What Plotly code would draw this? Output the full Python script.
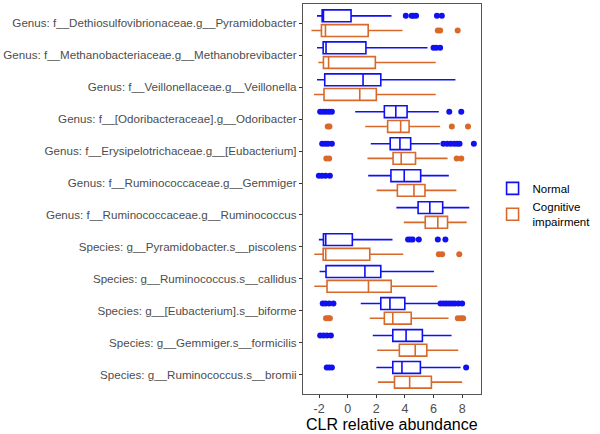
import plotly.graph_objects as go

# categories, top to bottom
taxa = [
    'Genus: f__Dethiosulfovibrionaceae.g__Pyramidobacter',
    'Genus: f__Methanobacteriaceae.g__Methanobrevibacter',
    'Genus: f__Veillonellaceae.g__Veillonella',
    'Genus: f__[Odoribacteraceae].g__Odoribacter',
    'Genus: f__Erysipelotrichaceae.g__[Eubacterium]',
    'Genus: f__Ruminococcaceae.g__Gemmiger',
    'Genus: f__Ruminococcaceae.g__Ruminococcus',
    'Species: g__Pyramidobacter.s__piscolens',
    'Species: g__Ruminococcus.s__callidus',
    'Species: g__[Eubacterium].s__biforme',
    'Species: g__Gemmiger.s__formicilis',
    'Species: g__Ruminococcus.s__bromii',
]

x_ticks = [-2, 0, 2, 4, 6, 8]
x_tick_text = ['-2', '0', '2', '4', '6', '8']

# Normal group box stats
normal_lo = [-2.15, -2.15, -2.15, 0.52, 1.61, 1.43, 3.40, -2.02, -1.97, 0.91, 1.75, 2.00]
normal_q1 = [-1.79, -1.72, -1.61, 2.56, 2.97, 3.02, 4.92, -1.70, -1.52, 2.31, 3.15, 3.15]
normal_med = [-1.70, -1.52, 1.07, 3.36, 3.65, 3.95, 5.74, -1.54, 1.20, 2.95, 4.08, 3.79]
normal_q3 = [0.23, 1.27, 2.31, 4.15, 4.40, 5.10, 6.64, 0.32, 2.31, 3.99, 5.22, 5.08]
normal_hi = [3.06, 5.58, 7.53, 6.37, 6.44, 7.07, 8.50, 3.13, 6.03, 6.42, 7.26, 7.89]
normal_out = [
    [4.06, 4.47, 4.60, 4.78, 6.24, 6.58],
    [6.00, 6.19, 6.46],
    [],
    [-1.93, -1.72, -1.52, -1.31, -1.11, 7.10, 7.94],
    [-1.79, -1.58, -1.38, -1.11, 6.69, 6.95, 7.20, 7.45, 7.65, 7.82, 8.82],
    [-2.02, -1.80, -1.55, -1.25],
    [],
    [4.22, 4.38, 4.54, 4.97, 6.30, 6.83],
    [],
    [-1.75, -1.55, -1.30, -1.00, 6.49, 6.70, 6.90, 7.10, 7.30, 7.50, 7.75, 8.00],
    [-1.93, -1.70, -1.45, -1.18],
    [-1.47, -1.30, -1.11, 8.28],
]

# Cognitive impairment group box stats
ci_lo = [-2.54, -2.06, -2.36, 1.22, 1.38, 2.02, 3.92, -2.34, -2.34, 1.54, 2.06, 2.11]
ci_q1 = [-1.84, -1.70, -1.66, 2.79, 3.17, 3.47, 5.42, -1.72, -1.45, 2.56, 3.61, 3.27]
ci_med = [-1.56, -1.34, 0.84, 3.70, 3.74, 4.63, 6.30, -1.54, 1.45, 3.15, 4.72, 4.33]
ci_q3 = [1.43, 1.93, 2.00, 4.29, 4.74, 5.40, 6.98, 1.54, 3.04, 4.44, 5.53, 5.85]
ci_hi = [3.83, 6.15, 6.15, 6.46, 6.98, 7.60, 8.32, 3.88, 6.26, 7.05, 7.73, 8.00]
ci_out = [
    [6.30, 6.46, 7.69],
    [],
    [],
    [-1.40, -1.28, 7.28, 8.41],
    [-1.50, -1.30, 7.62, 7.94],
    [],
    [],
    [6.37, 6.60, 7.80],
    [],
    [-1.52, -1.38, -1.25, 7.70, 7.90, 8.07],
    [],
    [],
]

blue = '#1010F0'
orange = '#D8692A'

pos = list(range(1, len(taxa) + 1))
shift = 0.23
pos_n = [p - shift for p in pos]
pos_c = [p + shift for p in pos]

fig = go.Figure()

groups = [
    ('Normal', pos_n, normal_lo, normal_q1, normal_med, normal_q3, normal_hi, normal_out, blue),
    ('Cognitive<br>impairment', pos_c, ci_lo, ci_q1, ci_med, ci_q3, ci_hi, ci_out, orange),
]

for name, yy, lo, q1, med, q3, hi, outs, col in groups:
    fig.add_trace(go.Box(
        name=name, orientation='h', y=yy,
        lowerfence=lo, q1=q1, median=med, q3=q3, upperfence=hi,
        width=0.37, whiskerwidth=0, boxpoints=False,
        fillcolor='white', line=dict(color=col, width=1.6),
    ))
    ox, oy = [], []
    for p, vals in zip(yy, outs):
        ox += vals
        oy += [p] * len(vals)
    fig.add_trace(go.Scatter(
        x=ox, y=oy, mode='markers', showlegend=False,
        marker=dict(color=col, size=6), hoverinfo='x',
    ))

fig.update_layout(
    width=600, height=434,
    margin=dict(l=303, r=114, t=4, b=40),
    plot_bgcolor='white', paper_bgcolor='white',
    boxmode='overlay',
    font=dict(family='Liberation Sans, Arial, sans-serif', color='#4d4d4d', size=12),
    legend=dict(x=1.065, y=0.485, yanchor='middle', xanchor='left',
                font=dict(size=11.5, color='black'), tracegroupgap=0, itemwidth=30),
)

# x axis title placed just under the tick labels
fig.add_annotation(
    text='CLR relative abundance', xref='paper', yref='paper',
    x=0.5, y=-0.077, xanchor='center', yanchor='middle', showarrow=False,
    font=dict(size=16, color='black'),
)

fig.update_xaxes(
    range=[-3.13, 9.32], tickvals=x_ticks, ticktext=x_tick_text,
    showgrid=False, zeroline=False, showline=True, mirror=True,
    linecolor='#555555', linewidth=1.2, automargin=False,
    ticks='outside', ticklen=3, tickcolor='#333333',
    tickfont=dict(size=12.5, color='#4d4d4d'),
)
fig.update_yaxes(
    range=[12.6, 0.4], tickvals=pos, ticktext=taxa,
    showgrid=False, zeroline=False, showline=True, mirror=True,
    linecolor='#555555', linewidth=1.2, automargin=False,
    ticks='outside', ticklen=3, tickcolor='#333333',
    tickfont=dict(size=11.6, color='#4d4d4d'),
)

# drop the browser's default body margin so the figure sits at the page corner
fig.write_html('out.html', config={'displayModeBar': False},
               post_script="document.body.style.margin='0';")
